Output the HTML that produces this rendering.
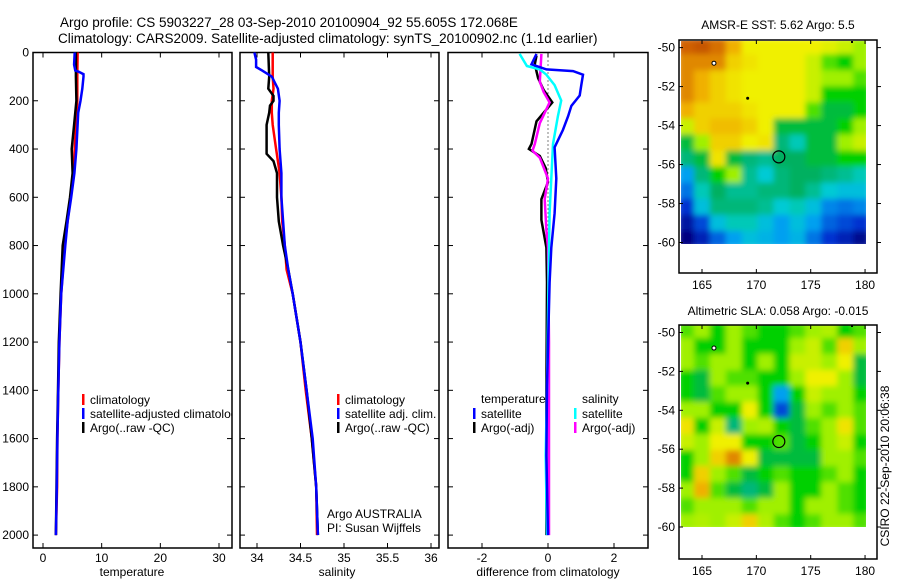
<!DOCTYPE html>
<html><head><meta charset="utf-8"><style>
body{margin:0;background:#fff;}
svg{display:block;font-family:"Liberation Sans",sans-serif;}
</style></head><body>
<svg id="fig" width="900" height="580" viewBox="0 0 900 580" xmlns="http://www.w3.org/2000/svg">
<text x="60" y="27" font-size="13.5">Argo profile: CS 5903227_28 03-Sep-2010 20100904_92 55.605S 172.068E</text>
<text x="58" y="43" font-size="13.5">Climatology: CARS2009. Satellite-adjusted climatology: synTS_20100902.nc (1.1d earlier)</text>
<defs>
<clipPath id="c1"><rect x="33" y="52.5" width="199" height="495.5"/></clipPath>
<clipPath id="c2"><rect x="240" y="52.5" width="199" height="495.5"/></clipPath>
<clipPath id="c3"><rect x="448" y="52.5" width="200" height="495.5"/></clipPath>
<clipPath id="cm1"><rect x="681" y="41" width="185" height="203"/></clipPath>
<clipPath id="cm2"><rect x="681" y="325" width="185" height="202"/></clipPath>
<filter id="bl" x="-5%" y="-5%" width="110%" height="110%"><feGaussianBlur stdDeviation="3"/></filter>
</defs>
<g id="g1"></g>
<g id="g2"></g>
<g id="g3"></g>
<g id="m1"></g>
<g id="m2"></g>
<text x="778" y="29" font-size="12" text-anchor="middle">AMSR-E SST: 5.62 Argo: 5.5</text>
<text x="778" y="315" font-size="12" text-anchor="middle">Altimetric SLA: 0.058 Argo: -0.015</text>
<text transform="translate(889,466) rotate(-90)" font-size="12" text-anchor="middle">CSIRO 22-Sep-2010 20:06:38</text>
</svg>
<script>
// ---- temperature data ----
const tDepth = [0,100,200,300,400,500,600,700,800,1000,1200,1400,1600,1800,2000];
const tArgo = [5.6,5.6,5.7,5.3,4.9,5.05,4.6,4.0,3.35,3.0,2.7,2.55,2.4,2.3,2.2];
const tClim = [5.9,5.85,5.85,5.6,5.4,5.2,4.7,4.2,3.7,3.1,2.8,2.6,2.45,2.4,2.2];
const tSatDepth = [0,50,75,80,90,100,150,200,250,300,400,500,600,700,800,1000,1200,1400,1600,1800,2000];
const tSat = [5.4,5.3,5.5,6.1,6.9,6.9,6.7,6.4,6.0,5.9,5.7,5.35,4.8,4.2,3.8,3.1,2.8,2.6,2.45,2.35,2.2];
// ---- salinity data ----
const sArgoDepth = [0,100,150,180,200,220,250,300,350,400,420,450,500,550,600,700,800,900,1000,1200,1400,1600,1800,2000];
const sArgo = [34.13,34.14,34.13,34.19,34.19,34.15,34.14,34.11,34.11,34.11,34.11,34.19,34.23,34.23,34.23,34.25,34.3,34.36,34.41,34.5,34.57,34.63,34.68,34.7];
const sClimDepth = [0,100,150,200,250,300,350,400,450,500,600,700,800,900,1000,1200,1400,1600,1800,2000];
const sClim = [34.18,34.18,34.19,34.17,34.17,34.18,34.2,34.22,34.24,34.26,34.28,34.29,34.32,34.34,34.41,34.5,34.56,34.63,34.68,34.69];
const sSatDepth = [0,30,60,75,100,150,200,250,300,400,500,600,700,800,900,1000,1200,1400,1600,1800,2000];
const sSat = [33.97,33.99,33.99,34.06,34.17,34.24,34.26,34.25,34.25,34.26,34.28,34.28,34.3,34.32,34.36,34.41,34.5,34.57,34.64,34.68,34.7];
// ---- difference data ----
const dTArgoDepth = [13,49,106,156,207,285,379,400,429,479,537,608,694,809,953,1400,2000];
const dTArgo = [-0.35,-0.4,-0.3,-0.13,0.13,-0.35,-0.5,-0.58,-0.25,-0.07,0.0,-0.2,-0.2,-0.05,-0.03,-0.05,-0.05];
const dSArgoDepth = [6,121,164,207,293,379,407,436,522,608,737,809,1200,2000];
const dSArgo = [-0.2,-0.25,-0.13,0.05,-0.25,-0.4,-0.47,-0.25,0.0,-0.1,-0.05,0.0,0.03,0.03];
const dSSatDepth = [6,56,70,92,135,199,264,379,522,666,809,1096,1383,1670,2000];
const dSSat = [-0.86,-0.64,-0.25,-0.05,0.2,0.4,0.3,0.15,0.1,0.05,0.03,0.0,-0.03,-0.07,-0.03];
const dTSatDepth = [6,49,70,77,92,135,178,221,264,321,393,522,666,809,953,1383,1670,2000];
const dTSat = [-0.35,-0.5,-0.05,0.76,1.06,1.01,0.96,0.71,0.61,0.45,0.2,0.25,0.2,0.1,0.05,-0.03,-0.05,0.0];
// ---- ticks ----
const depthTicks = [0,200,400,600,800,1000,1200,1400,1600,1800,2000];
const tTicks = [0,10,20,30];
const sTicks = [34,34.5,35,35.5,36];
const sTickLabels = ['34','34.5','35','35.5','36'];
const dTicks = [-2,0,2];
const latTicks = [-50,-52,-54,-56,-58,-60];
const lonTicks = [165,170,175,180];
// ---- map grids (12 lon cols x 13 lat rows, colour index 0..1) ----
const sstGrid = [
[0.9,0.92,0.88,0.8,0.7,0.7,0.7,0.7,0.7,0.68,0.65,0.6],
[0.85,0.85,0.85,0.75,0.72,0.7,0.7,0.7,0.65,0.55,0.5,0.6],
[0.85,0.8,0.75,0.72,0.7,0.7,0.7,0.7,0.65,0.6,0.6,0.55],
[0.85,0.8,0.75,0.72,0.7,0.7,0.7,0.7,0.65,0.5,0.5,0.5],
[0.8,0.75,0.75,0.75,0.72,0.7,0.7,0.7,0.55,0.45,0.45,0.5],
[0.65,0.75,0.78,0.78,0.75,0.7,0.45,0.45,0.45,0.45,0.5,0.6],
[0.45,0.6,0.75,0.75,0.7,0.72,0.4,0.35,0.45,0.45,0.6,0.65],
[0.4,0.45,0.72,0.45,0.4,0.38,0.42,0.42,0.45,0.45,0.5,0.5],
[0.25,0.4,0.5,0.6,0.38,0.32,0.4,0.42,0.42,0.4,0.38,0.35],
[0.2,0.35,0.42,0.38,0.38,0.4,0.4,0.42,0.38,0.32,0.3,0.3],
[0.12,0.3,0.4,0.4,0.4,0.38,0.32,0.35,0.3,0.22,0.2,0.22],
[0.05,0.15,0.3,0.35,0.35,0.3,0.25,0.3,0.25,0.18,0.15,0.12],
[0.0,0.08,0.18,0.25,0.3,0.28,0.25,0.28,0.2,0.12,0.08,0.02]];
const slaGrid = [
[0.55,0.6,0.5,0.6,0.55,0.5,0.5,0.55,0.6,0.62,0.5,0.55],
[0.6,0.5,0.5,0.6,0.5,0.5,0.5,0.6,0.65,0.55,0.75,0.6],
[0.6,0.55,0.6,0.6,0.5,0.6,0.5,0.65,0.65,0.6,0.7,0.45],
[0.5,0.45,0.6,0.55,0.55,0.5,0.5,0.6,0.7,0.7,0.6,0.45],
[0.5,0.45,0.55,0.6,0.6,0.5,0.25,0.5,0.65,0.6,0.6,0.5],
[0.6,0.6,0.5,0.5,0.7,0.5,0.15,0.45,0.6,0.55,0.6,0.55],
[0.72,0.5,0.65,0.4,0.6,0.62,0.5,0.45,0.55,0.6,0.72,0.55],
[0.65,0.6,0.7,0.7,0.5,0.5,0.55,0.45,0.5,0.6,0.65,0.5],
[0.5,0.6,0.75,0.85,0.7,0.45,0.45,0.45,0.45,0.6,0.6,0.55],
[0.5,0.75,0.6,0.55,0.45,0.5,0.55,0.5,0.5,0.55,0.6,0.5],
[0.6,0.8,0.55,0.45,0.4,0.45,0.6,0.5,0.5,0.6,0.55,0.5],
[0.55,0.6,0.6,0.6,0.55,0.6,0.6,0.5,0.6,0.6,0.55,0.5],
[0.6,0.62,0.6,0.65,0.75,0.62,0.55,0.5,0.55,0.6,0.6,0.55]];
const argoLon = 172.068, argoLat = -55.605;

const NS='http://www.w3.org/2000/svg';
function mk(tag,attrs,parent){const e=document.createElementNS(NS,tag);for(const k in attrs)e.setAttribute(k,attrs[k]);parent.appendChild(e);return e;}
const TOP=52.5,BOT=548;
const yD=d=>TOP+d*0.2413;
const xT=v=>43+v*5.867;
const xS=v=>257+(v-34)*87;
const xDf=v=>548+v*33;

function frame(g,x0,x1,xs,ticks,labels,showY,name){
  const r=mk('rect',{x:x0,y:TOP,width:x1-x0,height:BOT-TOP,fill:'none',stroke:'#000','stroke-width':1.5},g);
  
  
  ticks.forEach((t,i)=>{const x=xs(t);
    mk('line',{x1:x,x2:x,y1:TOP,y2:TOP+5,stroke:'#000'},g);
    mk('line',{x1:x,x2:x,y1:BOT,y2:BOT-5,stroke:'#000'},g);
    const tx=mk('text',{x:x,y:562,'font-size':12,'text-anchor':'middle'},g);tx.textContent=labels[i];
    
    
  });
  depthTicks.forEach(d=>{const y=yD(d);
    mk('line',{x1:x0,x2:x0+5,y1:y,y2:y,stroke:'#000'},g);
    mk('line',{x1:x1,x2:x1-5,y1:y,y2:y,stroke:'#000'},g);
    if(showY){const tx=mk('text',{x:29,y:y+4,'font-size':12,'text-anchor':'end'},g);tx.textContent=d;
      
      }
  });
}
function line(g,depths,vals,xs,color,clip,name,w){
  const pts=depths.map((d,i)=>xs(vals[i]).toFixed(1)+','+yD(d).toFixed(1)).join(' ');
  const p=mk('polyline',{points:pts,fill:'none',stroke:color,'stroke-width':w||2.5,'clip-path':'url(#'+clip+')'},g);
  
  
}
function legend(g,x,y,color,label,name){
  mk('rect',{x:x,y:y-9,width:2.5,height:11,fill:color},g);
  const t=mk('text',{x:x+8,y:y+1,'font-size':12},g);t.textContent=label;
  
  
}
function label(g,x,y,txt,name,anchor){
  const t=mk('text',{x:x,y:y,'font-size':12,'text-anchor':anchor||'start'},g);t.textContent=txt;
  
  
  return t;
}
// Panel 1
const g1=document.getElementById('g1');
frame(g1,33,232,xT,tTicks,tTicks.map(String),true,'temperature');
line(g1,tDepth,tClim,xT,'#f00','c1','temperature-climatology-line');
line(g1,tDepth,tArgo,xT,'#000','c1','temperature-argo-line');
line(g1,tSatDepth,tSat,xT,'#00f','c1','temperature-satellite-line');
const lg1=mk('g',{'clip-path':'url(#c1)'},g1);
legend(lg1,82,403,'#f00','climatology','legend-climatology');
legend(lg1,82,417,'#00f','satellite-adjusted climatology','legend-satellite-adjusted');
legend(lg1,82,431,'#000','Argo(..raw -QC)','legend-argo');
label(g1,132,576,'temperature','temperature-axis-title','middle');
// Panel 2
const g2=document.getElementById('g2');
frame(g2,240,439,xS,sTicks,sTickLabels,false,'salinity');
line(g2,sClimDepth,sClim,xS,'#f00','c2','salinity-climatology-line');
line(g2,sArgoDepth,sArgo,xS,'#000','c2','salinity-argo-line');
line(g2,sSatDepth,sSat,xS,'#00f','c2','salinity-satellite-line');
legend(g2,337,403,'#f00','climatology','legend-sal-climatology');
legend(g2,337,417,'#00f','satellite adj. clim.','legend-sal-satellite');
legend(g2,337,431,'#000','Argo(..raw -QC)','legend-sal-argo');
label(g2,327,518,'Argo AUSTRALIA','argo-australia-note');
label(g2,327,532,'PI: Susan Wijffels','pi-note');
label(g2,337,576,'salinity','salinity-axis-title','middle');
// Panel 3
const g3=document.getElementById('g3');
frame(g3,448,648,xDf,dTicks,dTicks.map(String),false,'difference');
const z=mk('line',{x1:xDf(0),x2:xDf(0),y1:TOP,y2:yD(840),stroke:'#000','stroke-dasharray':'1,3'},g3);


line(g3,dTArgoDepth,dTArgo,xDf,'#000','c3','diff-temperature-argo-line');
line(g3,dSArgoDepth,dSArgo,xDf,'#f0f','c3','diff-salinity-argo-line');
line(g3,dSSatDepth,dSSat,xDf,'#0ff','c3','diff-salinity-satellite-line');
line(g3,dTSatDepth,dTSat,xDf,'#00f','c3','diff-temperature-satellite-line');
label(g3,481,403,'temperature','legend-temperature-heading');
legend(g3,473,417,'#00f','satellite','legend-diff-temp-satellite');
legend(g3,473,431,'#000','Argo(-adj)','legend-diff-temp-argo');
label(g3,582,403,'salinity','legend-salinity-heading');
legend(g3,574,417,'#0ff','satellite','legend-diff-sal-satellite');
legend(g3,574,431,'#f0f','Argo(-adj)','legend-diff-sal-argo');
label(g3,548,576,'difference from climatology','difference-axis-title','middle');

// Maps
const stops=[[0,[0,0,128]],[0.12,[0,48,208]],[0.25,[0,160,240]],[0.33,[0,208,208]],[0.42,[0,176,96]],[0.5,[0,208,0]],[0.6,[160,240,0]],[0.7,[240,240,0]],[0.8,[240,176,0]],[0.9,[208,96,0]],[1,[160,48,0]]];
function cmap(v){for(let i=1;i<stops.length;i++){if(v<=stops[i][0]){const a=stops[i-1],b=stops[i];const f=(v-a[0])/(b[0]-a[0]);
  return 'rgb('+a[1].map((c,k)=>Math.round(c+(b[1][k]-c)*f)).join(',')+')';}}return 'rgb(160,48,0)';}
function map(id,grid,fy,fb,imgTop,imgBot,lat50,lat60,clip,name){
  const g=document.getElementById(id);
  const xL=lon=>702+(lon-165)*10.87;
  const yL=lat=>lat50+(-50-lat)*(lat60-lat50)/10;
  const img=mk('g',{'clip-path':'url(#'+clip+')'},g);
  const inner=mk('g',{filter:'url(#bl)'},img);
  const nr=grid.length,nc=grid[0].length;
  const x0=678,x1=869,y0=imgTop-3,y1=imgBot+3;
  const cw=(x1-x0)/nc,ch=(y1-y0)/nr;
  grid.forEach((row,r)=>row.forEach((v,c)=>{
    const cell=mk('rect',{x:x0+c*cw,y:y0+r*ch,width:cw+0.6,height:ch+0.6,fill:cmap(v)},inner);
    
    
  }));
  const fr=mk('rect',{x:679,y:fy,width:198,height:fb-fy,fill:'none',stroke:'#000','stroke-width':1.5},g);
  
  
  lonTicks.forEach(l=>{const x=xL(l);
    mk('line',{x1:x,x2:x,y1:fy,y2:fy+4,stroke:'#000'},g);
    mk('line',{x1:x,x2:x,y1:fb,y2:fb-4,stroke:'#000'},g);
    label(g,x,fb+16,String(l),name+'-lon-label','middle');});
  latTicks.forEach(l=>{const y=yL(l);
    mk('line',{x1:679,x2:683,y1:y,y2:y,stroke:'#000'},g);
    mk('line',{x1:877,x2:881,y1:y,y2:y,stroke:'#000'},g);
    label(g,675,y+4,String(l),name+'-lat-label','end');});
  const c=mk('circle',{cx:xL(argoLon),cy:yL(argoLat),r:6,fill:'none',stroke:'#000','stroke-width':1.2},g);
  
  
  mk('circle',{cx:xL(166.1),cy:yL(-50.8),r:2,fill:'#fff',stroke:'#000','stroke-width':1},g);
  mk('circle',{cx:xL(169.2),cy:yL(-52.6),r:1.5,fill:'#000'},g);
  mk('rect',{x:xL(178.8)-1,y:imgTop,width:2,height:2,fill:'#000'},g);
}
map('m1',sstGrid,40,273,41,244,47.6,242.5,'cm1','sst-map');
map('m2',slaGrid,325,559,325,527,332.5,527,'cm2','sla-map');
</script>
</body></html>
